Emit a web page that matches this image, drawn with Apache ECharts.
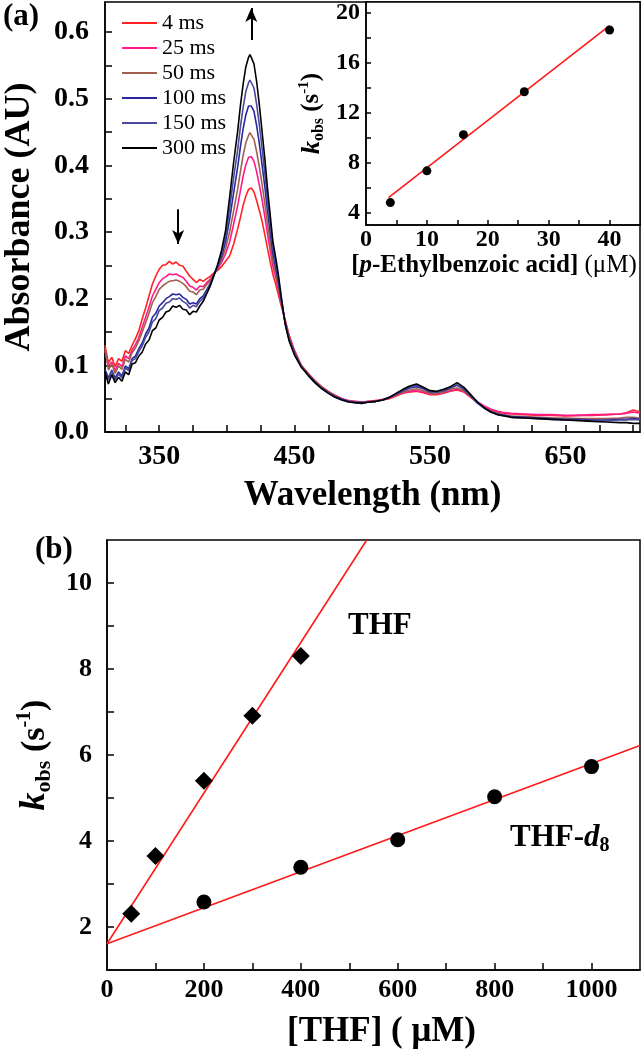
<!DOCTYPE html>
<html><head><meta charset="utf-8">
<script src="https://cdn.jsdelivr.net/npm/echarts@6/dist/echarts.min.js"></script>
<style>html,body{margin:0;padding:0;background:#fff}#c{width:642px;height:1050px}</style>
</head><body><div id="c"></div>
<script>
// ---------- Panel (a): spectra ----------
const wavelengths = [
310,312.5,315,317.5,320,322.5,325,327.5,330,332.5,335,337.5,340,342.5,345,347.5,350,352.5,355,357.5,360,362.5,365,367.5,370,372.5,375,377.5,380,382.5,385,387.5,390,
393,396,399,402,405,408,410,412,414,416,417,418,420,422,424,426,428,430,432,434,436,438,440,443,446,450,455,460,465,470,475,480,485,490,
495,500,505,510,515,520,525,530,535,540,545,550,555,560,565,570,575,580,585,590,595,600,605,610,620,630,640,650,660,670,680,690,695,700,705];
const abs4ms = [
0.130,0.104,0.112,0.098,0.110,0.106,0.122,0.118,0.130,0.140,0.152,0.170,0.186,0.204,0.222,0.234,0.244,0.250,0.251,0.256,0.252,0.255,0.250,0.249,0.241,0.234,0.229,0.224,0.229,0.226,0.230,0.233,0.238,
0.242,0.248,0.256,0.264,0.282,0.305,0.322,0.340,0.354,0.364,0.367,0.366,0.360,0.347,0.332,0.316,0.296,0.275,0.255,0.236,0.222,0.206,0.190,0.168,0.145,0.122,0.100,0.088,0.077,0.068,0.061,0.055,0.050,0.047,
0.045,0.045,0.046,0.047,0.048,0.050,0.054,0.058,0.060,0.061,0.059,0.056,0.056,0.058,0.061,0.063,0.060,0.052,0.044,0.038,0.033,0.030,0.028,0.027,0.026,0.025,0.025,0.024,0.025,0.025,0.026,0.027,0.029,0.033,0.030];
const abs25ms = [
0.122,0.100,0.105,0.092,0.103,0.098,0.114,0.110,0.123,0.131,0.142,0.157,0.172,0.187,0.204,0.214,0.224,0.230,0.233,0.237,0.236,0.237,0.234,0.232,0.226,0.219,0.217,0.213,0.219,0.218,0.224,0.229,0.236,
0.244,0.254,0.267,0.285,0.312,0.340,0.362,0.384,0.401,0.412,0.415,0.413,0.406,0.390,0.370,0.348,0.323,0.297,0.272,0.248,0.232,0.213,0.194,0.167,0.143,0.120,0.099,0.087,0.076,0.067,0.060,0.054,0.050,0.047,
0.046,0.045,0.046,0.047,0.049,0.051,0.055,0.059,0.061,0.062,0.060,0.057,0.057,0.059,0.062,0.064,0.061,0.053,0.045,0.039,0.034,0.031,0.029,0.028,0.027,0.026,0.026,0.025,0.025,0.026,0.026,0.027,0.028,0.030,0.028];
const abs50ms = [
0.126,0.093,0.102,0.088,0.099,0.094,0.109,0.105,0.119,0.126,0.137,0.150,0.164,0.178,0.194,0.203,0.214,0.219,0.223,0.226,0.227,0.228,0.226,0.223,0.218,0.211,0.210,0.206,0.213,0.214,0.221,0.227,0.236,
0.245,0.258,0.275,0.300,0.332,0.365,0.391,0.415,0.434,0.445,0.449,0.446,0.439,0.420,0.397,0.371,0.343,0.312,0.284,0.256,0.238,0.218,0.196,0.166,0.141,0.119,0.099,0.087,0.076,0.067,0.060,0.054,0.049,0.046,
0.045,0.044,0.045,0.046,0.048,0.051,0.056,0.060,0.063,0.065,0.062,0.058,0.058,0.060,0.064,0.066,0.062,0.053,0.044,0.037,0.031,0.028,0.026,0.024,0.023,0.022,0.021,0.021,0.020,0.020,0.020,0.021,0.022,0.022,0.021];
const abs100ms = [
0.094,0.081,0.093,0.081,0.090,0.084,0.099,0.095,0.110,0.114,0.125,0.134,0.147,0.156,0.172,0.178,0.189,0.194,0.200,0.203,0.207,0.206,0.207,0.202,0.199,0.192,0.194,0.192,0.200,0.204,0.213,0.222,0.234,
0.247,0.263,0.285,0.319,0.359,0.398,0.428,0.455,0.476,0.489,0.492,0.489,0.481,0.459,0.432,0.400,0.368,0.332,0.299,0.267,0.247,0.225,0.199,0.164,0.139,0.118,0.098,0.086,0.075,0.066,0.059,0.053,0.049,0.046,
0.044,0.044,0.045,0.046,0.048,0.052,0.057,0.062,0.066,0.068,0.065,0.060,0.060,0.062,0.066,0.070,0.064,0.054,0.044,0.036,0.030,0.027,0.025,0.023,0.022,0.021,0.020,0.019,0.019,0.018,0.018,0.019,0.019,0.020,0.019];
const abs150ms = [
0.088,0.078,0.091,0.078,0.087,0.081,0.096,0.092,0.107,0.110,0.121,0.129,0.142,0.150,0.165,0.170,0.182,0.186,0.193,0.195,0.200,0.199,0.201,0.196,0.193,0.186,0.190,0.188,0.196,0.201,0.211,0.221,0.233,
0.248,0.267,0.293,0.335,0.382,0.424,0.458,0.487,0.511,0.524,0.528,0.525,0.516,0.491,0.460,0.425,0.388,0.348,0.312,0.276,0.254,0.230,0.202,0.163,0.138,0.116,0.098,0.085,0.074,0.065,0.058,0.052,0.048,0.045,
0.044,0.043,0.045,0.046,0.048,0.052,0.058,0.063,0.067,0.070,0.066,0.061,0.060,0.063,0.067,0.071,0.065,0.054,0.043,0.036,0.030,0.026,0.024,0.022,0.021,0.020,0.019,0.018,0.018,0.017,0.017,0.018,0.018,0.019,0.018];
const abs300ms = [
0.090,0.072,0.086,0.074,0.082,0.076,0.090,0.086,0.102,0.104,0.114,0.120,0.132,0.138,0.152,0.156,0.168,0.172,0.180,0.182,0.189,0.187,0.190,0.184,0.183,0.176,0.181,0.180,0.189,0.196,0.207,0.218,0.232,
0.250,0.272,0.302,0.352,0.405,0.452,0.490,0.522,0.548,0.562,0.566,0.562,0.552,0.525,0.490,0.450,0.410,0.365,0.325,0.285,0.262,0.236,0.205,0.162,0.136,0.115,0.097,0.085,0.074,0.065,0.058,0.052,0.048,0.045,
0.044,0.043,0.045,0.046,0.048,0.052,0.058,0.064,0.069,0.072,0.067,0.062,0.061,0.064,0.068,0.074,0.067,0.056,0.045,0.036,0.030,0.026,0.024,0.022,0.021,0.020,0.019,0.018,0.017,0.016,0.015,0.014,0.014,0.013,0.013];
const seriesNames = ['4 ms','25 ms','50 ms','100 ms','150 ms','300 ms'];
const seriesColors = ['#ff2424','#ff1a8c','#a0624e','#28289e','#4a4a9c','#000000'];
const xTicksA = [325,350,375,400,425,450,475,500,525,550,575,600,625,650,675,700];
const xLabelsA = [350,450,550,650];
const yTicksA = [0,0.05,0.1,0.15,0.2,0.25,0.3,0.35,0.4,0.45,0.5,0.55,0.6];
const yLabelsA = [0,0.1,0.2,0.3,0.4,0.5,0.6];

// ---------- Inset ----------
const acidConc = [4, 10, 16, 26, 40];
const acidKobs = [4.8, 7.35, 10.25, 13.7, 18.65];
const acidFitX = [3.7, 40];
const acidFitY = [5.2, 19.0];
const xTicksIn = [5,10,15,20,25,30,35,40];
const xLabelsIn = [0,10,20,30,40];
const yTicksIn = [4,6,8,10,12,14,16,18,20];
const yLabelsIn = [4,8,12,16,20];

// ---------- Panel (b) ----------
const thfConc = [50, 100, 200, 300, 400];
const thfKobs = [2.31, 3.65, 5.40, 6.91, 8.30];
const thfD8Conc = [200, 400, 600, 800, 1000];
const thfD8Kobs = [2.58, 3.39, 4.03, 5.03, 5.73];
const thfFitX = [0, 536];
const thfFitY = [1.61, 11.0];
const d8FitX = [0, 1100];
const d8FitY = [1.61, 6.22];
const xTicksB = [100,200,300,400,500,600,700,800,900,1000];
const xLabelsB = [0,200,400,600,800,1000];
const yTicksB = [2,3,4,5,6,7,8,9,10];
const yLabelsB = [2,4,6,8,10];

const F = '"Liberation Serif","Times New Roman",serif';
const AX = {color:'#000', width:1.5};
const pairs = (xs, ys) => xs.map((x,i)=>[x, ys[i]]);
const specData = [abs4ms, abs25ms, abs50ms, abs100ms, abs150ms, abs300ms];

function axisBase(o){
  return Object.assign({
    type:'value', splitLine:{show:false},
    axisLine:{show:true, onZero:false, lineStyle:AX},
  }, o);
}

const chart = echarts.init(document.getElementById('c'), null, {renderer:'canvas'});
const series = specData.map((arr, i) => ({
  type:'line', name:seriesNames[i], xAxisIndex:0, yAxisIndex:0,
  data:pairs(wavelengths, arr), showSymbol:false, symbol:'none',
  lineStyle:{color:seriesColors[i], width:1.6}, itemStyle:{color:seriesColors[i]},
  z:2+i
}));
series[5].markLine = {
  silent:true, symbol:['none','arrow'], symbolSize:[9,14], animation:false,
  lineStyle:{color:'#000', width:2, type:'solid'}, label:{show:false},
  data:[
    [{coord:[418,0.588]},{coord:[418,0.636]}],
    [{coord:[364,0.334]},{coord:[364,0.282]}]
  ]
};
series.push(
  {type:'line', xAxisIndex:1, yAxisIndex:1, data:pairs(acidFitX, acidFitY), showSymbol:false, symbol:'none', lineStyle:{color:'#ff1a1a', width:1.6}, z:3},
  {type:'scatter', xAxisIndex:1, yAxisIndex:1, data:pairs(acidConc, acidKobs), symbol:'circle', symbolSize:9, itemStyle:{color:'#000', opacity:1}, z:4},
  {type:'line', xAxisIndex:2, yAxisIndex:2, data:pairs(thfFitX, thfFitY), showSymbol:false, symbol:'none', lineStyle:{color:'#ff1a1a', width:1.6}, z:3},
  {type:'line', xAxisIndex:2, yAxisIndex:2, data:pairs(d8FitX, d8FitY), showSymbol:false, symbol:'none', lineStyle:{color:'#ff1a1a', width:1.6}, z:3},
  {type:'scatter', xAxisIndex:2, yAxisIndex:2, data:pairs(thfConc, thfKobs), symbol:'diamond', symbolSize:18, itemStyle:{color:'#000', opacity:1}, z:4},
  {type:'scatter', xAxisIndex:2, yAxisIndex:2, data:pairs(thfD8Conc, thfD8Kobs), symbol:'circle', symbolSize:15, itemStyle:{color:'#000', opacity:1}, z:4}
);

const labelStyle = (size, margin, extra) => Object.assign({fontFamily:F, fontWeight:'bold', fontSize:size, color:'#000', margin:margin, formatter:v=>String(v)}, extra||{});

chart.setOption({
  animation:false,
  backgroundColor:'#fff',
  textStyle:{fontFamily:F},
  legend:{
    data:seriesNames, orient:'vertical', left:117, top:7, icon:'rect',
    itemWidth:35, itemHeight:2, itemGap:3,
    textStyle:{fontFamily:F, fontSize:22, color:'#000'},
    selectedMode:false
  },
  grid:[
    {left:105, top:2, width:535, height:430, show:true, borderColor:'#000', borderWidth:1.5, backgroundColor:'transparent', outerBoundsMode:'none', containLabel:false},
    {left:366, top:2, width:274, height:223, show:true, borderColor:'#000', borderWidth:1.5, backgroundColor:'#fff', z:3, outerBoundsMode:'none', containLabel:false},
    {left:107, top:540, width:533, height:430, show:true, borderColor:'#000', borderWidth:1.5, backgroundColor:'transparent', outerBoundsMode:'none', containLabel:false}
  ],
  xAxis:[
    axisBase({gridIndex:0, min:310, max:705,
      axisTick:{inside:true, length:7, customValues:xTicksA, lineStyle:AX},
      axisLabel:labelStyle(28, 11, {customValues:xLabelsA}),
      name:'Wavelength (nm)', nameLocation:'middle', nameGap:46,
      nameTextStyle:{fontFamily:F, fontWeight:'bold', fontSize:35, color:'#000'}}),
    axisBase({gridIndex:1, min:0, max:45, z:4,
      axisTick:{inside:true, length:5, customValues:xTicksIn, lineStyle:AX},
      axisLabel:labelStyle(24, 3, {customValues:xLabelsIn}),
      name:'{b|[}{i|p}{b|-Ethylbenzoic acid] }{n|(μM)}', nameLocation:'middle', nameGap:27,
      nameTextStyle:{padding:[0,18,0,0], rich:{
        b:{fontFamily:F, fontWeight:'bold', fontSize:25, color:'#000'},
        i:{fontFamily:F, fontWeight:'bold', fontStyle:'italic', fontSize:25, color:'#000'},
        n:{fontFamily:F, fontSize:25, color:'#000'}}}}),
    axisBase({gridIndex:2, min:0, max:1100,
      axisTick:{inside:true, length:7, customValues:xTicksB, lineStyle:AX},
      axisLabel:labelStyle(26, 7, {customValues:xLabelsB}),
      name:'[THF] ( μM)', nameLocation:'middle', nameGap:44,
      nameTextStyle:{fontFamily:F, fontWeight:'bold', fontSize:35, color:'#000', padding:[0,0,0,16]}})
  ],
  yAxis:[
    axisBase({gridIndex:0, min:0, max:0.645,
      axisTick:{inside:true, length:7, customValues:yTicksA, lineStyle:AX},
      axisLabel:labelStyle(28, 16, {customValues:yLabelsA, formatter:v=>v.toFixed(1)}),
      name:'Absorbance (AU)', nameLocation:'middle', nameGap:67,
      nameTextStyle:{fontFamily:F, fontWeight:'bold', fontSize:36, color:'#000'}}),
    axisBase({gridIndex:1, min:3, max:20.9, z:4,
      axisTick:{inside:true, length:5, customValues:yTicksIn, lineStyle:AX},
      axisLabel:labelStyle(24, 6, {customValues:yLabelsIn}),
      name:'{k|k}{s|obs}{b| (s}{p|-1}{b|)}', nameLocation:'middle', nameGap:39,
      nameTextStyle:{rich:{
        k:{fontFamily:F, fontWeight:'bold', fontStyle:'italic', fontSize:26, color:'#000', lineHeight:30},
        s:{fontFamily:F, fontWeight:'bold', fontSize:16, color:'#000', verticalAlign:'bottom', lineHeight:16},
        b:{fontFamily:F, fontWeight:'bold', fontSize:25, color:'#000', lineHeight:30},
        p:{fontFamily:F, fontWeight:'bold', fontSize:15, color:'#000', verticalAlign:'top', lineHeight:15}}}}),
    axisBase({gridIndex:2, min:1, max:11,
      axisTick:{inside:true, length:7, customValues:yTicksB, lineStyle:AX},
      axisLabel:labelStyle(26, 15, {customValues:yLabelsB}),
      name:'{k|k}{s|obs}{b| (s}{p|-1}{b|)}', nameLocation:'middle', nameGap:52,
      nameTextStyle:{rich:{
        k:{fontFamily:F, fontWeight:'bold', fontStyle:'italic', fontSize:36, color:'#000', lineHeight:40},
        s:{fontFamily:F, fontWeight:'bold', fontSize:22, color:'#000', verticalAlign:'bottom', lineHeight:22},
        b:{fontFamily:F, fontWeight:'bold', fontSize:34, color:'#000', lineHeight:40},
        p:{fontFamily:F, fontWeight:'bold', fontSize:20, color:'#000', verticalAlign:'top', lineHeight:20}}}})
  ],
  graphic:[
    {type:'text', left:3, top:1, style:{text:'(a)', font:'bold 31px '+F, fill:'#000'}},
    {type:'text', left:35, top:534, style:{text:'(b)', font:'bold 31px '+F, fill:'#000'}},
    {type:'text', left:348, top:610, style:{text:'THF', font:'bold 31px '+F, fill:'#000'}},
    {type:'text', left:510, top:822, style:{
      text:'{b|THF-}{i|d}{s|8}',
      rich:{b:{font:'bold 31px '+F, fill:'#000', lineHeight:36},
            i:{font:'italic bold 31px '+F, fill:'#000', lineHeight:36},
            s:{font:'bold 20px '+F, fill:'#000', verticalAlign:'bottom', lineHeight:20}}}}
  ],
  series:series
});
</script></body></html>
